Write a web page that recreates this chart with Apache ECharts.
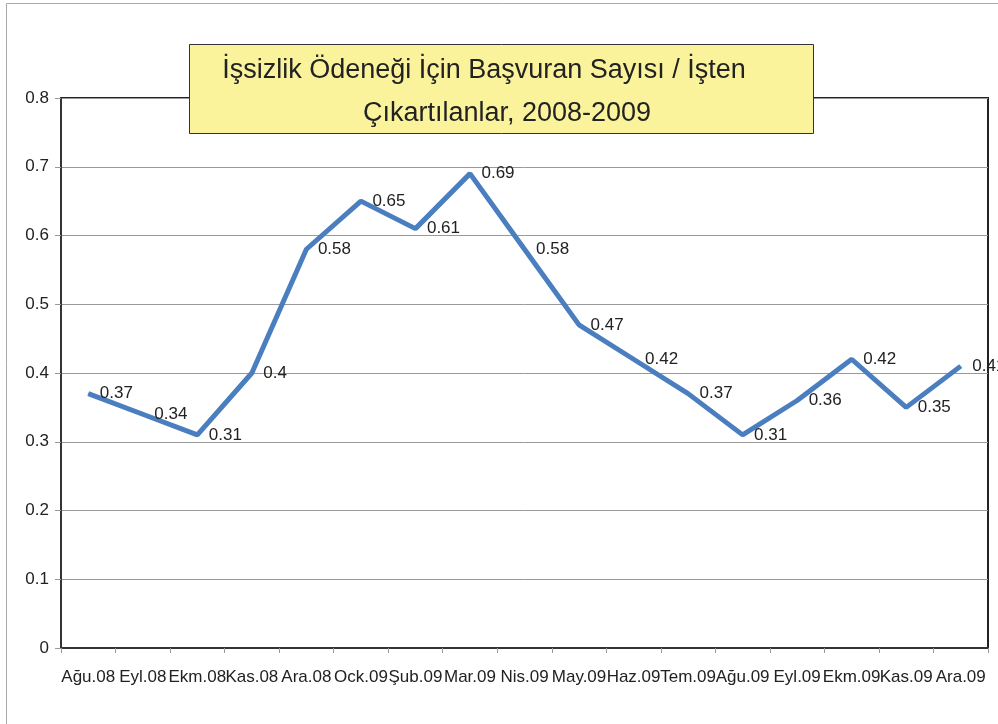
<!DOCTYPE html>
<html>
<head>
<meta charset="utf-8">
<script src="https://cdn.jsdelivr.net/npm/echarts@6/dist/echarts.min.js"></script>
<style>
html,body{margin:0;padding:0;background:#fff;}
#main{width:998px;height:724px;}
</style>
</head>
<body>
<div id="main"></div>
<script>
var months = ["Ağu.08","Eyl.08","Ekm.08","Kas.08","Ara.08","Ock.09","Şub.09","Mar.09","Nis.09","May.09","Haz.09","Tem.09","Ağu.09","Eyl.09","Ekm.09","Kas.09","Ara.09"];
var ratio = [0.37,0.34,0.31,0.4,0.58,0.65,0.61,0.69,0.58,0.47,0.42,0.37,0.31,0.36,0.42,0.35,0.41];
var yTicks = [0,0.1,0.2,0.3,0.4,0.5,0.6,0.7,0.8];
var titleLines = ["İşsizlik Ödeneği İçin Başvuran Sayısı / İşten", "Çıkartılanlar, 2008-2009"];

var myChart = echarts.init(document.getElementById("main"));
var font = "Liberation Sans, Arial, sans-serif";

var option = {
    animation: false,
    textStyle: {fontFamily: font},
    grid: {
        left: 61, right: 10, top: 98, bottom: 76,
        show: true, borderColor: "#222", borderWidth: 2
    },
    xAxis: {
        type: "category",
        data: months,
        boundaryGap: true,
        axisLine: {lineStyle: {color: "#333", width: 2}},
        axisTick: {show: true, length: 5, lineStyle: {color: "#999"}},
        axisLabel: {color: "#222", fontSize: 17, margin: 21, interval: 0}
    },
    yAxis: {
        type: "value",
        min: 0, max: 0.8, interval: 0.1,
        axisLine: {show: true, lineStyle: {color: "#333", width: 2}},
        axisTick: {show: true, length: 6, lineStyle: {color: "#999"}},
        splitLine: {lineStyle: {color: "#999", width: 1}},
        axisLabel: {
            color: "#222", fontSize: 17, margin: 12,
            formatter: function (v) {
                // snap to the tick list so float noise doesn't show
                var t = yTicks.reduce(function (a, b) { return Math.abs(b - v) < Math.abs(a - v) ? b : a; });
                return String(t);
            }
        }
    },
    series: [{
        type: "line",
        data: ratio,
        symbol: "circle",
        symbolSize: 1,
        showSymbol: true,
        itemStyle: {color: "#4A7EBF"},
        lineStyle: {color: "#4A7EBF", width: 5},
        label: {
            show: true, position: "right", distance: 11,
            color: "#222", fontSize: 17
        }
    }],
    graphic: [
        {
            type: "rect", silent: true, z: 1,
            shape: {x: 6.5, y: 3.5, width: 1200, height: 1200},
            style: {fill: "none", stroke: "#aaa", lineWidth: 1}
        },
        {
            type: "rect", z: 1000,
            shape: {x: 189.5, y: 44.5, width: 624, height: 89},
            style: {fill: "#FAF39B", stroke: "#333", lineWidth: 1}
        },
        {
            type: "text", x: 484, y: 71, z: 1001,
            style: {text: titleLines[0], fontSize: 27, fill: "#222", align: "center", verticalAlign: "middle", fontFamily: font}
        },
        {
            type: "text", x: 507, y: 114, z: 1001,
            style: {text: titleLines[1], fontSize: 27, fill: "#222", align: "center", verticalAlign: "middle", fontFamily: font}
        }
    ]
};

myChart.setOption(option);
</script>
</body>
</html>
